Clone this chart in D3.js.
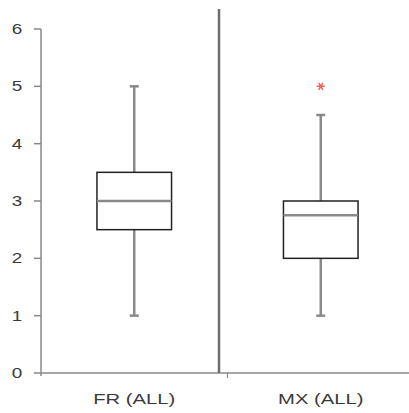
<!DOCTYPE html>
<html>
<head>
<meta charset="utf-8">
<script src="https://cdn.jsdelivr.net/npm/d3@7"></script>
<style>
  html, body { margin: 0; padding: 0; background: #fff; }
  text { font-family: "Liberation Sans", Arial, sans-serif; fill: #3a3a3a; }
</style>
</head>
<body>
<div id="chart"></div>
<script>
// categories and five-number summaries
var groups = ["FR (ALL)", "MX (ALL)"];
var lowWhisker = [1, 1];
var q1 = [2.5, 2];
var median = [3, 2.75];
var q3 = [3.5, 3];
var highWhisker = [5, 4.5];
var outliers = [[], [5]];
var yTicks = [0, 1, 2, 3, 4, 5, 6];

var width = 409, height = 413;
var stretch = 1.35; // text in the picture is wide

var svg = d3.select("#chart").append("svg")
    .attr("width", width)
    .attr("height", height);

var x = d3.scaleBand()
    .domain(groups)
    .range([41, 414]);

var y = d3.scaleLinear()
    .domain([0, 6])
    .range([373, 29]);

var data = groups.map(function (g, i) {
    return { name: g, lo: lowWhisker[i], q1: q1[i], med: median[i], q3: q3[i], hi: highWhisker[i], out: outliers[i] };
});

// y axis
svg.append("line")
    .attr("x1", x.range()[0]).attr("x2", x.range()[0])
    .attr("y1", y(6)).attr("y2", y(0) + 3)
    .attr("stroke", "#888").attr("stroke-width", 1.5);

svg.selectAll(".ytick")
    .data(yTicks)
    .enter().append("line")
    .attr("x1", x.range()[0] - 7).attr("x2", x.range()[0])
    .attr("y1", function (d) { return y(d); })
    .attr("y2", function (d) { return y(d); })
    .attr("stroke", "#888").attr("stroke-width", 1.5);

svg.selectAll(".ylab")
    .data(yTicks)
    .enter().append("text")
    .attr("transform", function (d) { return "translate(17," + (y(d) + 5) + ") scale(" + stretch + ",1)"; })
    .attr("text-anchor", "middle")
    .style("font-size", "14px")
    .text(function (d) { return d; });

// x axis
svg.append("line")
    .attr("x1", x.range()[0]).attr("x2", width)
    .attr("y1", y(0)).attr("y2", y(0))
    .attr("stroke", "#888").attr("stroke-width", 1.5);

svg.append("line")
    .attr("x1", x("MX (ALL)")).attr("x2", x("MX (ALL)"))
    .attr("y1", y(0)).attr("y2", y(0) + 5)
    .attr("stroke", "#888").attr("stroke-width", 1.2);

svg.selectAll(".xlab")
    .data(groups)
    .enter().append("text")
    .attr("transform", function (d) { return "translate(" + (x(d) + x.bandwidth() / 2) + ",404) scale(" + stretch + ",1)"; })
    .attr("text-anchor", "middle")
    .style("font-size", "15px")
    .text(function (d) { return d; });

// separator between the two groups
svg.append("line")
    .attr("x1", x("MX (ALL)") - 8.5).attr("x2", x("MX (ALL)") - 8.5)
    .attr("y1", 9).attr("y2", y(0))
    .attr("stroke", "#6e6e6e").attr("stroke-width", 2.5);

var boxW = x.bandwidth() * 0.4;
var capW = 9;

var g = svg.selectAll(".box")
    .data(data)
    .enter().append("g")
    .attr("transform", function (d) { return "translate(" + (x(d.name) + x.bandwidth() / 2) + ",0)"; });

// whiskers
g.append("line")
    .attr("x1", 0).attr("x2", 0)
    .attr("y1", function (d) { return y(d.hi); })
    .attr("y2", function (d) { return y(d.q3); })
    .attr("stroke", "#8a8a8a").attr("stroke-width", 2.5);
g.append("line")
    .attr("x1", 0).attr("x2", 0)
    .attr("y1", function (d) { return y(d.q1); })
    .attr("y2", function (d) { return y(d.lo); })
    .attr("stroke", "#8a8a8a").attr("stroke-width", 2.5);

// caps
["hi", "lo"].forEach(function (k) {
    g.append("line")
        .attr("x1", -capW / 2).attr("x2", capW / 2)
        .attr("y1", function (d) { return y(d[k]); })
        .attr("y2", function (d) { return y(d[k]); })
        .attr("stroke", "#8a8a8a").attr("stroke-width", 2.5);
});

// box
g.append("rect")
    .attr("x", -boxW / 2)
    .attr("width", boxW)
    .attr("y", function (d) { return y(d.q3); })
    .attr("height", function (d) { return y(d.q1) - y(d.q3); })
    .attr("fill", "#fff")
    .attr("stroke", "#222").attr("stroke-width", 1.5);

// median
g.append("line")
    .attr("x1", -boxW / 2).attr("x2", boxW / 2)
    .attr("y1", function (d) { return y(d.med); })
    .attr("y2", function (d) { return y(d.med); })
    .attr("stroke", "#8a8a8a").attr("stroke-width", 2.5);

// outliers as red asterisks
g.selectAll(".out")
    .data(function (d) { return d.out; })
    .enter().append("path")
    .attr("d", d3.symbol().type(d3.symbolAsterisk).size(45))
    .attr("transform", function (d) { return "translate(0," + y(d) + ") rotate(30)"; })
    .attr("stroke", "#ff5a5a").attr("stroke-width", 1.5).attr("fill", "none");
</script>
</body>
</html>
